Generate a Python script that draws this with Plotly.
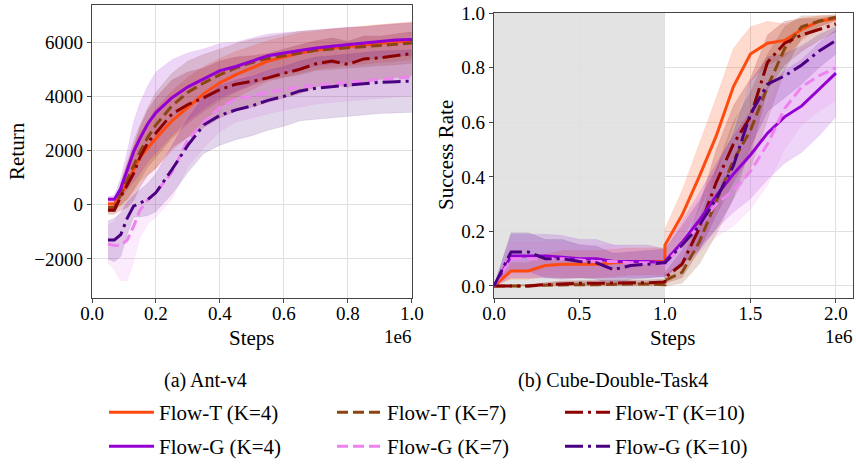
import plotly.graph_objects as go
import numpy as np

W, H = 856, 464
FONT = "Liberation Serif"

# ---------------- data: Ant-v4 (Return vs Steps, in units of 1e6) ----------------
ant_steps = [0.05, 0.07, 0.09, 0.11, 0.13, 0.15, 0.175, 0.2, 0.25, 0.3, 0.35, 0.4,
             0.45, 0.5, 0.55, 0.6, 0.65, 0.7, 0.75, 0.8, 0.85, 0.9, 0.95, 1.0]

ant_T4 = [30, 30, 350, 800, 1300, 1750, 2100, 2450, 3100, 3600, 4100, 4500,
          4800, 5050, 5300, 5450, 5600, 5700, 5780, 5830, 5900, 5950, 6000, 6050]
ant_T4_std = [100, 100, 400, 600, 800, 900, 1000, 1100, 1100, 1100, 1000, 900,
              850, 800, 750, 750, 750, 700, 700, 700, 700, 700, 700, 700]

ant_T7 = [-100, -100, 400, 900, 1450, 1950, 2500, 2950, 3650, 4150, 4500, 4800,
          5050, 5250, 5400, 5500, 5600, 5700, 5750, 5800, 5850, 5880, 5920, 5970]
ant_T7_std = [150, 150, 400, 700, 900, 1000, 1100, 1200, 1200, 1150, 1050, 950,
              900, 850, 800, 800, 800, 750, 750, 750, 750, 750, 750, 750]

ant_T10 = [-200, -200, 300, 700, 1150, 1750, 2300, 2650, 3350, 3700, 3950, 4250,
           4450, 4550, 4680, 4850, 5000, 5200, 5300, 5180, 5380, 5420, 5500, 5580]
ant_T10_std = [150, 150, 500, 800, 1000, 1100, 1200, 1300, 1250, 1200, 1100, 1050,
               1000, 950, 900, 900, 900, 850, 850, 850, 850, 800, 800, 800]

ant_G4 = [200, 200, 600, 1250, 1950, 2450, 3000, 3400, 3950, 4350, 4650, 4950,
          5100, 5300, 5500, 5600, 5700, 5780, 5850, 5900, 5950, 6020, 6080, 6100]
ant_G4_std = [100, 150, 400, 700, 1100, 1300, 1400, 1500, 1400, 1250, 1100, 1000,
              900, 850, 800, 750, 700, 650, 650, 650, 600, 600, 600, 600]

ant_G7 = [-1450, -1500, -1500, -1300, -800, -200, 200, 450, 1200, 2400, 3050, 3600,
          3900, 4000, 4150, 4250, 4350, 4420, 4480, 4530, 4570, 4620, 4670, 4720]
ant_G7_std = [700, 900, 1300, 1500, 1300, 1000, 900, 900, 1000, 1000, 950, 900,
              850, 800, 800, 750, 750, 700, 700, 700, 700, 700, 700, 700]

ant_G10 = [-1300, -1300, -1100, -500, -50, 50, 200, 450, 1300, 2200, 2950, 3300,
           3500, 3650, 3850, 4000, 4200, 4300, 4350, 4400, 4470, 4520, 4540, 4560]
ant_G10_std = [700, 800, 800, 600, 400, 500, 600, 700, 900, 1000, 1050, 1100,
               1100, 1100, 1100, 1100, 1100, 1150, 1150, 1150, 1150, 1150, 1150, 1150]

# ---------------- data: Cube-Double-Task4 (Success Rate vs Steps, 1e6) ----------------
cube_steps = [0.0, 0.1, 0.2, 0.3, 0.4, 0.5, 0.6, 0.7, 0.8, 0.9, 1.0,
              1.0, 1.1, 1.2, 1.3, 1.4, 1.5, 1.6, 1.7, 1.8, 1.9, 2.0]

cube_T4 = [0, 0.055, 0.055, 0.075, 0.08, 0.08, 0.08, 0.085, 0.09, 0.09, 0.09,
           0.15, 0.26, 0.40, 0.55, 0.73, 0.85, 0.89, 0.90, 0.94, 0.97, 0.98]
cube_T4_std = [0, 0.03, 0.03, 0.04, 0.05, 0.05, 0.05, 0.05, 0.05, 0.05, 0.05,
               0.06, 0.09, 0.12, 0.14, 0.14, 0.10, 0.08, 0.06, 0.04, 0.02, 0.01]

cube_T7 = [0, 0.0, 0.0, 0.003, 0.005, 0.005, 0.005, 0.007, 0.007, 0.007, 0.005,
           0.02, 0.05, 0.16, 0.31, 0.46, 0.57, 0.73, 0.87, 0.95, 0.97, 0.985]
cube_T7_std = [0, 0.005, 0.005, 0.008, 0.01, 0.01, 0.01, 0.01, 0.01, 0.01, 0.01,
               0.02, 0.04, 0.08, 0.12, 0.14, 0.14, 0.12, 0.08, 0.04, 0.02, 0.01]

cube_T10 = [0, 0.0, 0.0, 0.005, 0.008, 0.01, 0.01, 0.012, 0.012, 0.012, 0.015,
            0.03, 0.08, 0.21, 0.38, 0.52, 0.62, 0.82, 0.89, 0.92, 0.94, 0.96]
cube_T10_std = [0, 0.005, 0.005, 0.008, 0.01, 0.01, 0.01, 0.01, 0.01, 0.01, 0.01,
                0.02, 0.05, 0.08, 0.12, 0.14, 0.14, 0.10, 0.08, 0.06, 0.04, 0.03]

cube_G4 = [0, 0.11, 0.11, 0.11, 0.105, 0.10, 0.10, 0.09, 0.09, 0.09, 0.085,
           0.09, 0.16, 0.24, 0.33, 0.41, 0.48, 0.56, 0.62, 0.66, 0.72, 0.78]
cube_G4_std = [0, 0.08, 0.08, 0.08, 0.08, 0.07, 0.07, 0.06, 0.06, 0.06, 0.05,
               0.05, 0.08, 0.10, 0.12, 0.14, 0.16, 0.17, 0.17, 0.17, 0.17, 0.16]

cube_G7 = [0, 0.10, 0.10, 0.10, 0.10, 0.095, 0.09, 0.09, 0.085, 0.085, 0.08,
           0.08, 0.15, 0.22, 0.30, 0.35, 0.42, 0.52, 0.65, 0.73, 0.77, 0.80]
cube_G7_std = [0, 0.06, 0.06, 0.06, 0.06, 0.06, 0.06, 0.06, 0.05, 0.05, 0.05,
               0.05, 0.08, 0.10, 0.12, 0.13, 0.14, 0.15, 0.15, 0.14, 0.13, 0.12]

cube_G10 = [0, 0.125, 0.125, 0.10, 0.10, 0.09, 0.085, 0.06, 0.075, 0.08, 0.085,
            0.085, 0.15, 0.22, 0.32, 0.44, 0.63, 0.74, 0.77, 0.81, 0.86, 0.90]
cube_G10_std = [0, 0.07, 0.07, 0.07, 0.07, 0.06, 0.06, 0.06, 0.05, 0.05, 0.05,
                0.05, 0.07, 0.09, 0.11, 0.12, 0.12, 0.10, 0.08, 0.07, 0.06, 0.05]

offline_end = 1.0

names = ["Flow-T (K=4)", "Flow-T (K=7)", "Flow-T (K=10)",
         "Flow-G (K=4)", "Flow-G (K=7)", "Flow-G (K=10)"]
colors = ["#FF4A10", "#8B4513", "#8B0000", "#9400D3", "#EE82EE", "#4B0082"]
dashes = ["solid", "11px,5px", "18px,5px,3px,5px",
          "solid", "11px,5px", "18px,5px,3px,5px"]
band_alpha = [0.2, 0.2, 0.2, 0.16, 0.16, 0.16]
ant_means = [ant_T4, ant_T7, ant_T10, ant_G4, ant_G7, ant_G10]
ant_stds = [ant_T4_std, ant_T7_std, ant_T10_std, ant_G4_std, ant_G7_std, ant_G10_std]
cube_means = [cube_T4, cube_T7, cube_T10, cube_G4, cube_G7, cube_G10]
cube_stds = [cube_T4_std, cube_T7_std, cube_T10_std, cube_G4_std, cube_G7_std, cube_G10_std]


def rgba(hexc, a):
    hexc = hexc.lstrip("#")
    r, g, b = int(hexc[0:2], 16), int(hexc[2:4], 16), int(hexc[4:6], 16)
    return f"rgba({r},{g},{b},{a})"


fig = go.Figure()

# bands first
for i in range(6):
    for xs, m, s, xa, ya, clip in [(ant_steps, ant_means[i], ant_stds[i], "x", "y", None),
                                   (cube_steps, cube_means[i], cube_stds[i], "x2", "y2", (0, 1))]:
        m = np.array(m, float)
        s = np.array(s, float)
        up, lo = m + s, m - s
        if clip:
            up, lo = np.clip(up, *clip), np.clip(lo, *clip)
        fig.add_trace(go.Scatter(x=xs, y=up, mode="lines", line=dict(width=0.6, color=rgba(colors[i], 0.15)),
                                 xaxis=xa, yaxis=ya, showlegend=False, hoverinfo="skip"))
        fig.add_trace(go.Scatter(x=xs, y=lo, mode="lines", line=dict(width=0.6, color=rgba(colors[i], 0.15)),
                                 fill="tonexty", fillcolor=rgba(colors[i], band_alpha[i]),
                                 xaxis=xa, yaxis=ya, showlegend=False, hoverinfo="skip"))

# mean lines
for i in range(6):
    leg = "legend" if i < 3 else "legend2"
    fig.add_trace(go.Scatter(x=ant_steps, y=ant_means[i], mode="lines", name=names[i],
                             line=dict(color=colors[i], width=3, dash=dashes[i]),
                             xaxis="x", yaxis="y", legend=leg, showlegend=True))
    fig.add_trace(go.Scatter(x=cube_steps, y=cube_means[i], mode="lines", name=names[i],
                             line=dict(color=colors[i], width=3, dash=dashes[i]),
                             xaxis="x2", yaxis="y2", showlegend=False))

axis_common = dict(showline=True, mirror=True, linecolor="#444444", linewidth=1.3,
                   ticks="outside", ticklen=4, tickwidth=1.2, tickcolor="#444444",
                   showgrid=True, gridcolor="#e0e0e0", gridwidth=1, zeroline=False,
                   automargin=False,
                   tickfont=dict(family=FONT, size=19, color="black"))

legend_common = dict(orientation="h", xanchor="left", yanchor="top", traceorder="normal",
                     entrywidth=168, entrywidthmode="pixels", itemwidth=45,
                     font=dict(family=FONT, size=21, color="black"), bgcolor="rgba(0,0,0,0)")

fig.update_layout(
    template="none",
    width=W, height=H, margin=dict(l=0, r=0, t=0, b=0, pad=0, autoexpand=False),
    paper_bgcolor="white", plot_bgcolor="white",
    font=dict(family=FONT, color="black"),
    xaxis=dict(domain=[92 / W, 412 / W], range=[0, 1.0005], dtick=0.2, tick0=0,
               tickformat=".1f", anchor="y", ticklabelstandoff=-6, **axis_common),
    yaxis=dict(domain=[(H - 298) / H, (H - 5) / H], range=[-3440, 7370], dtick=2000, tick0=0,
               anchor="x", **axis_common),
    xaxis2=dict(domain=[494 / W, 853 / W], range=[0, 2.1], dtick=0.5, tick0=0,
                tickformat=".1f", anchor="y2", ticklabelstandoff=-6, **axis_common),
    yaxis2=dict(domain=[(H - 298) / H, (H - 13) / H], range=[-0.044, 1.0005], dtick=0.2, tick0=0,
                tickformat=".1f", anchor="x2", **axis_common),
    legend=dict(x=104 / W, y=(H - 392) / H, **legend_common),
    legend2=dict(x=104 / W, y=(H - 426) / H, **legend_common),
    shapes=[dict(type="rect", xref="x2", yref="y2 domain", x0=0, x1=offline_end, y0=0, y1=1,
                 fillcolor="rgba(128,128,128,0.22)", line=dict(width=0), layer="below")],
)

ann = []
def add_text(text, x, y, size, xanchor="center", yanchor="middle", angle=0):
    ann.append(dict(text=text, x=x / W, y=1 - y / H, xref="paper", yref="paper",
                    showarrow=False, xanchor=xanchor, yanchor=yanchor, textangle=angle,
                    font=dict(family=FONT, size=size, color="black")))

add_text("Steps", 252, 338, 21)
add_text("Steps", 673, 338, 21)
add_text("1e6", 413, 336, 19, xanchor="right")
add_text("1e6", 854, 336, 19, xanchor="right")
add_text("Return", 17, 151, 21, angle=-90)
add_text("Success Rate", 446, 155, 21, angle=-90)
add_text("(a) Ant-v4", 205, 380, 20)
add_text("(b) Cube-Double-Task4", 613, 380, 20)
fig.update_layout(annotations=ann)

fig.write_html("out.html")
